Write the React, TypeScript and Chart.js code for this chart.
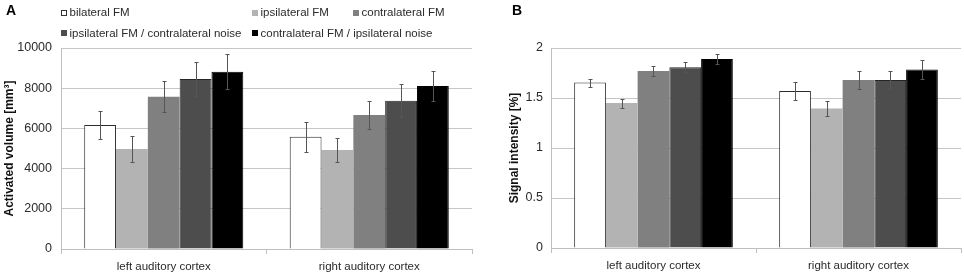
import React, { useEffect, useRef } from 'react';
import { Chart, registerables } from 'chart.js';

Chart.register(...registerables);

const FONT = "'Liberation Sans', Arial, Helvetica, sans-serif";

const categories = ['left auditory cortex', 'right auditory cortex'];
const seriesLabels = [
  'bilateral FM',
  'ipsilateral FM',
  'contralateral FM',
  'ipsilateral FM / contralateral noise',
  'contralateral FM / ipsilateral noise',
];
const seriesFill = ['#ffffff', '#b3b3b3', '#808080', '#4d4d4d', '#000000'];
const seriesBorder = ['#2b2b2b', '#b3b3b3', '#808080', '#262626', '#000000'];
const seriesBorderWidth = [1, 0, 0, 1, 1];

// Panel A: activated volume [mm³]
const volumeBilateral = [6170, 5590];
const volumeIpsi = [4980, 4930];
const volumeContra = [7580, 6670];
const volumeIpsiNoise = [8460, 7380];
const volumeContraNoise = [8820, 8110];
const volumeErrBilateral = [680, 740];
const volumeErrIpsi = [650, 610];
const volumeErrContra = [780, 715];
const volumeErrIpsiNoise = [850, 820];
const volumeErrContraNoise = [870, 730];
const volumeTicks = [0, 2000, 4000, 6000, 8000, 10000];

// Panel B: signal intensity [%]
const signalBilateral = [1.655, 1.571];
const signalIpsi = [1.449, 1.396];
const signalContra = [1.771, 1.681];
const signalIpsiNoise = [1.808, 1.681];
const signalContraNoise = [1.89, 1.785];
const signalErrBilateral = [0.04, 0.087];
const signalErrIpsi = [0.045, 0.075];
const signalErrContra = [0.05, 0.088];
const signalErrIpsiNoise = [0.05, 0.09];
const signalErrContraNoise = [0.05, 0.095];
const signalTicks = [0, 0.5, 1, 1.5, 2];

const errorBarPlugin = {
  id: 'errorBars',
  afterDatasetsDraw(chart: any) {
    const ctx = chart.ctx;
    const yScale = chart.scales.y;
    chart.data.datasets.forEach((ds: any, i: number) => {
      const meta = chart.getDatasetMeta(i);
      meta.data.forEach((bar: any, j: number) => {
        const v = ds.data[j];
        const e = ds.errors[j];
        const yTop = Math.round(yScale.getPixelForValue(v + e)) + 0.5;
        const yBot = Math.round(yScale.getPixelForValue(v - e)) + 0.5;
        const x = Math.round(bar.x) + 0.5;
        ctx.save();
        ctx.strokeStyle = '#555555';
        ctx.lineWidth = 1;
        ctx.beginPath();
        ctx.moveTo(x, yTop);
        ctx.lineTo(x, yBot);
        ctx.moveTo(x - 2, yTop);
        ctx.lineTo(x + 2, yTop);
        ctx.moveTo(x - 2, yBot);
        ctx.lineTo(x + 2, yBot);
        ctx.stroke();
        ctx.restore();
      });
    });
  },
};

const decorPlugin = {
  id: 'decor',
  afterDraw(chart: any, _args: any, opts: any) {
    const ctx = chart.ctx;
    ctx.save();
    if (opts.letter) {
      ctx.fillStyle = '#000';
      ctx.font = `bold 14px ${FONT}`;
      ctx.textBaseline = 'middle';
      ctx.textAlign = 'left';
      ctx.fillText(opts.letter, opts.letterX, opts.letterY);
    }
    if (opts.legend) {
      const slots = opts.legendSlots as { x: number; y: number }[];
      ctx.font = `11.5px ${FONT}`;
      ctx.textBaseline = 'middle';
      ctx.textAlign = 'left';
      chart.data.datasets.forEach((ds: any, i: number) => {
        const s = slots[i];
        const bx = Math.round(s.x);
        const by = Math.round(s.y - 3);
        ctx.fillStyle = ds.backgroundColor;
        ctx.fillRect(bx, by, 6, 6);
        if (ds.backgroundColor === '#ffffff') {
          ctx.strokeStyle = '#333';
          ctx.lineWidth = 1;
          ctx.strokeRect(bx + 0.5, by + 0.5, 5, 5);
        }
        ctx.fillStyle = '#2a2a2a';
        ctx.fillText(ds.label, bx + 8.5, s.y + 0.5);
      });
    }
    ctx.restore();
  },
};

function buildDatasets(values: number[][], errors: number[][]) {
  return values.map((vals, i) => ({
    label: seriesLabels[i],
    data: vals,
    errors: errors[i],
    backgroundColor: seriesFill[i],
    borderColor: seriesBorder[i],
    borderWidth: seriesBorderWidth[i],
    categoryPercentage: 0.774,
    barPercentage: 1.0,
  }));
}

function buildOptions(cfg: any) {
  return {
    responsive: false,
    animation: false,
    devicePixelRatio: 1,
    layout: { padding: { left: 0, right: cfg.padRight, top: 48, bottom: 0 } },
    plugins: {
      legend: { display: false },
      tooltip: { enabled: false },
      decor: cfg.decor,
    },
    scales: {
      x: {
        type: 'category',
        offset: true,
        grid: {
          offset: true,
          drawOnChartArea: false,
          drawTicks: true,
          tickLength: 5,
          color: '#bfbfbf',
        },
        border: { display: true, color: '#bfbfbf' },
        ticks: {
          color: '#2a2a2a',
          font: { family: FONT, size: 11.5 },
          padding: 6,
          maxRotation: 0,
        },
        afterFit: (scale: any) => {
          scale.height = cfg.xHeight;
        },
      },
      y: {
        min: 0,
        max: cfg.max,
        afterBuildTicks: (scale: any) => {
          scale.ticks = cfg.ticks.map((v: number) => ({ value: v }));
        },
        grid: { color: '#c6c6c6', drawTicks: false },
        border: { display: true, color: '#bfbfbf' },
        ticks: {
          color: '#2a2a2a',
          font: { family: FONT, size: 12.5 },
          padding: cfg.tickPad,
          callback: (v: any) => String(v),
        },
        title: {
          display: true,
          text: cfg.title,
          color: '#111',
          font: { family: FONT, size: 12, weight: 'bold' },
          padding: { top: cfg.titlePad, bottom: 0 },
        },
        afterFit: (scale: any) => {
          scale.width = cfg.yWidth;
        },
      },
    },
  };
}

function App() {
  const refA = useRef<HTMLCanvasElement>(null);
  const refB = useRef<HTMLCanvasElement>(null);

  useEffect(() => {
    const chartA = new Chart(refA.current as HTMLCanvasElement, {
      type: 'bar',
      data: {
        labels: categories,
        datasets: buildDatasets(
          [volumeBilateral, volumeIpsi, volumeContra, volumeIpsiNoise, volumeContraNoise],
          [volumeErrBilateral, volumeErrIpsi, volumeErrContra, volumeErrIpsiNoise, volumeErrContraNoise]
        ) as any,
      },
      options: buildOptions({
        padRight: 10,
        xHeight: 27,
        yWidth: 61,
        tickPad: 9,
        titlePad: 2,
        max: 10000,
        ticks: volumeTicks,
        title: 'Activated volume [mm³]',
        decor: {
          letter: 'A',
          letterX: 6,
          letterY: 11,
          legend: true,
          legendSlots: [
            { x: 61, y: 12.5 },
            { x: 252, y: 12.5 },
            { x: 353, y: 12.5 },
            { x: 61, y: 33 },
            { x: 252, y: 33 },
          ],
        },
      }) as any,
      plugins: [errorBarPlugin, decorPlugin],
    });

    const chartB = new Chart(refB.current as HTMLCanvasElement, {
      type: 'bar',
      data: {
        labels: categories,
        datasets: buildDatasets(
          [signalBilateral, signalIpsi, signalContra, signalIpsiNoise, signalContraNoise],
          [signalErrBilateral, signalErrIpsi, signalErrContra, signalErrIpsiNoise, signalErrContraNoise]
        ) as any,
      },
      options: buildOptions({
        padRight: 3,
        xHeight: 28,
        yWidth: 69,
        tickPad: 8,
        titlePad: 25,
        max: 2,
        ticks: signalTicks,
        title: 'Signal intensity [%]',
        decor: {
          letter: 'B',
          letterX: 30,
          letterY: 11,
          legend: false,
        },
      }) as any,
      plugins: [errorBarPlugin, decorPlugin],
    });

    return () => {
      chartA.destroy();
      chartB.destroy();
    };
  }, []);

  return (
    <div
      style={{
        position: 'absolute',
        left: 0,
        top: 0,
        width: 964,
        height: 276,
        background: '#ffffff',
        overflow: 'hidden',
      }}
    >
      <canvas ref={refA} width={482} height={276} style={{ position: 'absolute', left: 0, top: 0 }} />
      <canvas ref={refB} width={482} height={276} style={{ position: 'absolute', left: 482, top: 0 }} />
    </div>
  );
}

export default App;
